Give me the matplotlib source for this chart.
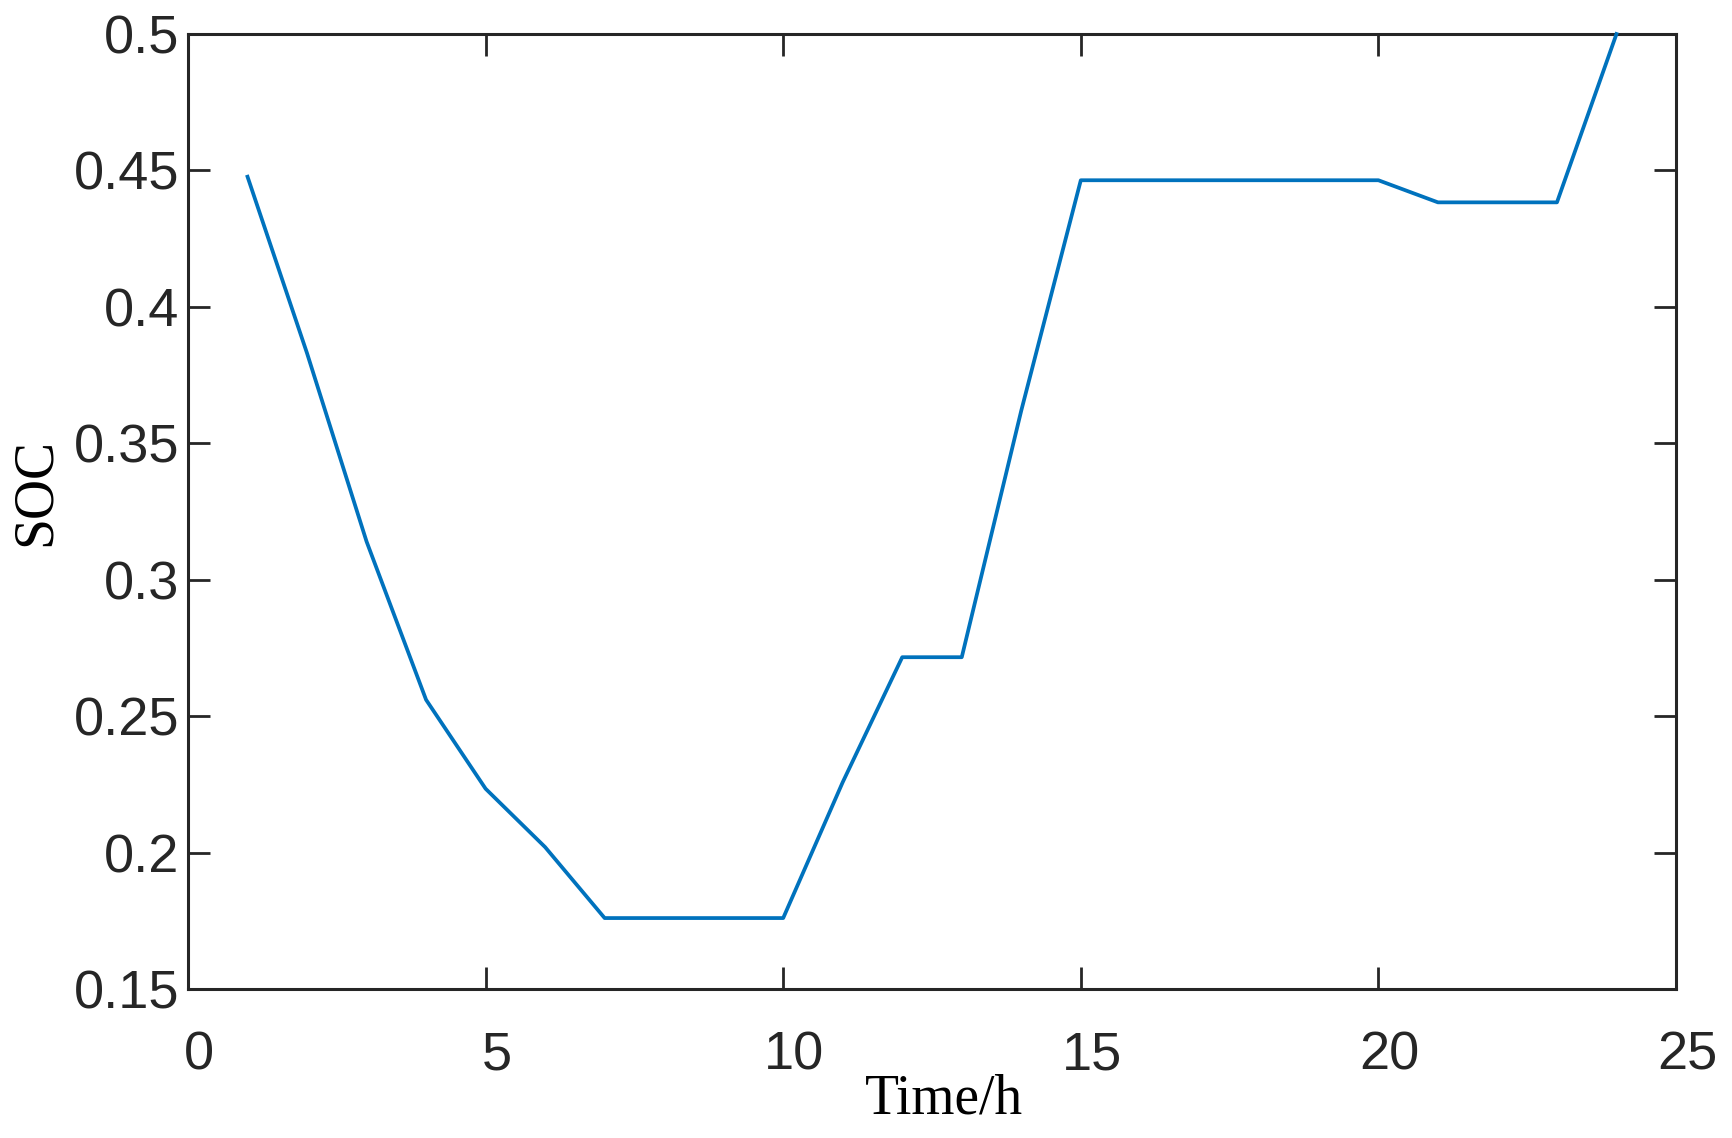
import matplotlib
matplotlib.use("Agg")
import matplotlib.pyplot as plt
import matplotlib.transforms as mtransforms
from matplotlib.ticker import FuncFormatter

hours = [1, 2, 3, 4, 5, 6, 7, 8, 9, 10, 11, 12, 13, 14, 15, 16, 17, 18, 19, 20, 21, 22, 23, 24]
soc = [0.4477, 0.383, 0.314, 0.256, 0.2234, 0.202, 0.176, 0.176, 0.176, 0.176,
       0.2258, 0.2716, 0.2716, 0.362, 0.4464, 0.4464, 0.4464, 0.4464, 0.4464, 0.4464,
       0.4383, 0.4383, 0.4383, 0.5]
xticks = [0, 5, 10, 15, 20, 25]
yticks = [0.15, 0.2, 0.25, 0.3, 0.35, 0.4, 0.45, 0.5]

W, H = 1732, 1138
fig = plt.figure(figsize=(W / 100, H / 100), dpi=100)
ax = fig.add_axes([188 / W, 1 - 989 / H, (1676 - 188) / W, (989 - 34) / H])

ax.plot(hours, soc, color="#0072BD", linewidth=2.7, clip_on=False, zorder=3)

ax.set_xlim(0, 25)
ax.set_ylim(0.15, 0.5)
ax.set_xticks(xticks)
ax.set_yticks(yticks)
ax.yaxis.set_major_formatter(FuncFormatter(lambda v, p: f"{v:g}"))

for s in ax.spines.values():
    s.set_linewidth(2.2)
    s.set_color("#262626")

ax.tick_params(axis="both", which="major", direction="in", length=16, width=2,
               color="#262626", labelcolor="#262626", labelsize=39,
               top=True, right=True)
ax.tick_params(axis="x", pad=30)
ax.tick_params(axis="y", pad=6)
shift = mtransforms.ScaledTranslation(11 / 100, 0, fig.dpi_scale_trans)
for lab in ax.get_xticklabels():
    lab.set_fontfamily("Liberation Sans")
    lab.set_transform(lab.get_transform() + shift)
for lab in ax.get_yticklabels():
    lab.set_fontfamily("Liberation Sans")

fig.text(944 / W, 1 - 1113 / H, "Time/h", family="Liberation Serif", fontsize=40,
         ha="center", va="baseline", color="black")
fig.text(36 / W, 1 - 492 / H, "SOC", family="Liberation Serif", fontsize=40,
         ha="center", va="center", rotation=90, color="black")

fig.savefig("out.png", dpi=100, facecolor="white")
